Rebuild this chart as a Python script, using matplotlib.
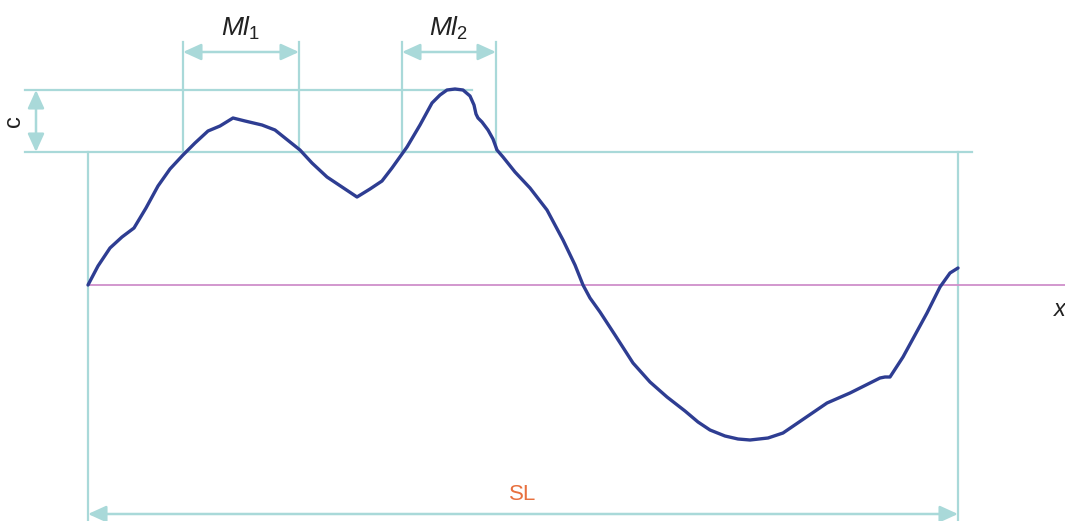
import matplotlib
matplotlib.use("Agg")
import matplotlib.pyplot as plt

plt.rcParams['font.family'] = ['Liberation Sans', 'DejaVu Sans']
plt.rcParams['mathtext.fontset'] = 'custom'
plt.rcParams['mathtext.it'] = 'Liberation Sans:italic'
plt.rcParams['mathtext.rm'] = 'Liberation Sans'

# Profile (x along sampling length, y height above mean line)
profile_x = [0, 10, 22, 34, 46, 58, 70, 82, 95, 107,
             120, 132, 145, 157, 174, 187, 202, 212, 224, 239,
             254, 269, 282, 294, 304, 319, 332, 344, 352, 359,
             367, 375, 382, 386, 388, 390, 394, 400, 405, 409,
             415, 427, 442, 459, 475, 487, 495, 502, 512, 527,
             545, 562, 579, 597, 610, 622, 637, 650, 662, 680,
             695, 717, 739, 762, 792, 797, 802, 815, 827, 839,
             852, 862, 870]
profile_y = [0, 19, 37, 48, 57, 77, 99, 116, 130, 142,
             154, 159, 167, 164, 160, 155, 143, 135, 122, 108,
             98, 88, 96, 104, 117, 138, 160, 182, 190, 195,
             196, 195, 189, 180, 171, 167, 163, 155, 146, 135,
             128, 113, 97, 75, 45, 20, 0, -13, -27, -50,
             -78, -97, -112, -126, -137, -145, -151, -154, -155, -153,
             -148, -133, -118, -108, -93, -92, -92, -72, -50, -28,
             -2, 12, 17]

# Reference levels
c_top = 195       # upper level of c
c_bottom = 133    # lower level of c
SL = 870
MI1 = (95, 211)
MI2 = (314, 408)

TEAL = '#a9d9d9'
BLUE = '#2e3d92'
MAG = '#cf8fca'

fig = plt.figure(figsize=(10.65, 5.21), dpi=100)
ax = fig.add_axes([0, 0, 1, 1])
ax.set_xlim(-88, 977)
ax.set_ylim(-236, 285)
ax.axis('off')

# mean line
ax.plot([0, 977], [0, 0], color=MAG, lw=1.3, zorder=2)

# horizontal reference lines
ax.plot([-63, 384], [c_top, c_top], color=TEAL, lw=1.6, zorder=1)
ax.plot([-63, 884], [c_bottom, c_bottom], color=TEAL, lw=1.6, zorder=1)

# sampling length verticals
for xv in (0, SL):
    ax.plot([xv, xv], [c_bottom, -236], color=TEAL, lw=1.6, zorder=1)

# MI verticals
for a, b in (MI1, MI2):
    for xv in (a, b):
        ax.plot([xv, xv], [c_bottom, 243], color=TEAL, lw=1.6, zorder=1)

arrow_kw = dict(arrowstyle='<|-|>,head_length=1.1,head_width=0.5',
                color=TEAL, lw=1.8, shrinkA=0, shrinkB=0)
ax.annotate('', xy=(MI1[0], 233), xytext=(MI1[1], 233), arrowprops=arrow_kw)
ax.annotate('', xy=(MI2[0], 233), xytext=(MI2[1], 233), arrowprops=arrow_kw)
ax.annotate('', xy=(-52, c_top), xytext=(-52, c_bottom), arrowprops=arrow_kw)
ax.annotate('', xy=(0, -229), xytext=(SL, -229), arrowprops=arrow_kw)

# profile
ax.plot(profile_x, profile_y, color=BLUE, lw=2.4, solid_capstyle='round',
        solid_joinstyle='round', zorder=3)

# labels
ax.text((MI1[0] + MI1[1]) / 2, 257, r'$Ml_1$', fontsize=19, ha='center', va='center', color='#222222')
ax.text((MI2[0] + MI2[1]) / 2, 257, r'$Ml_2$', fontsize=19, ha='center', va='center', color='#222222')
ax.text(-74, (c_top + c_bottom) / 2, 'c', fontsize=17, rotation=90, ha='center', va='center', color='#222222')
ax.text(SL / 2, -210, 'SL', fontsize=16, ha='center', va='center', color='#e8703e')
ax.text(972, -24, 'x', fontsize=17, style='italic', ha='center', va='center', color='#222222')

fig.savefig('out.png', dpi=100)
